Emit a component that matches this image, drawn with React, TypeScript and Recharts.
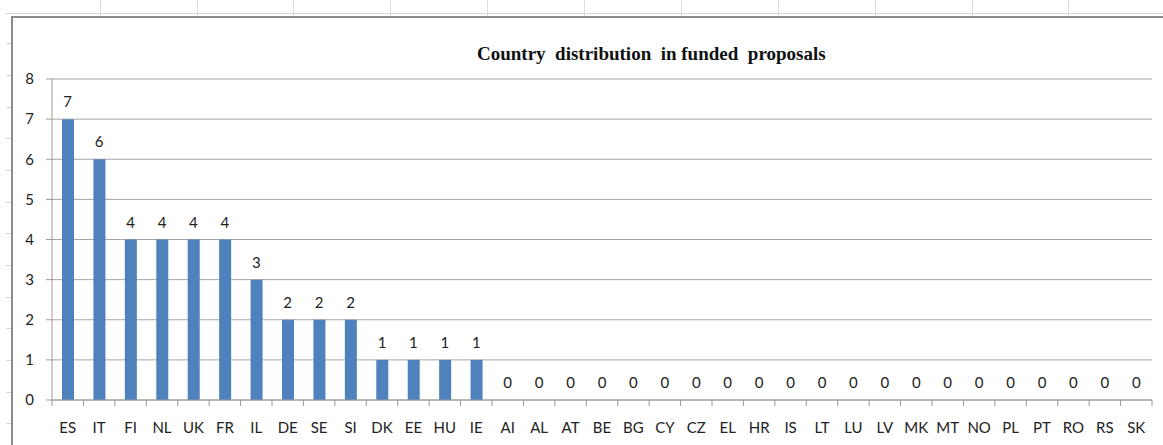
import { Bar, CartesianGrid, ComposedChart, LabelList, Line, XAxis, YAxis } from "recharts";

const countries = [
  "ES", "IT", "FI", "NL", "UK", "FR", "IL", "DE", "SE", "SI", "DK", "EE", "HU", "IE",
  "AI", "AL", "AT", "BE", "BG", "CY", "CZ", "EL", "HR", "IS", "LT", "LU", "LV", "MK",
  "MT", "NO", "PL", "PT", "RO", "RS", "SK",
];
const proposals = [7, 6, 4, 4, 4, 4, 3, 2, 2, 2, 1, 1, 1, 1, 0, 0, 0, 0, 0, 0, 0, 0, 0, 0, 0, 0, 0, 0, 0, 0, 0, 0, 0, 0, 0];
const yTicks = [0, 1, 2, 3, 4, 5, 6, 7, 8];

const data = countries.map((c, i) => ({ pais: c, valor: proposals[i] }));

const FONT = "Lato, 'Open Sans', sans-serif";
const AXIS = "#9a9a9a";

// rótulo da categoria + tracinho na divisa entre categorias (estilo Excel)
function CountryTick(props: any) {
  const { x, y, payload, index, visibleTicksCount, width } = props;
  const band = (width || 1100) / (visibleTicksCount || countries.length);
  const left = x - band / 2;
  return (
    <g>
      <line x1={left} x2={left} y1={y} y2={y + 6} stroke={AXIS} />
      {index === visibleTicksCount - 1 && (
        <line x1={x + band / 2} x2={x + band / 2} y1={y} y2={y + 6} stroke={AXIS} />
      )}
      <text x={x} y={y + 33} textAnchor="middle" fontSize={15} fill="#222" fontFamily={FONT}>
        {payload.value}
      </text>
    </g>
  );
}

// linhas de células da planilha que aparecem atrás do gráfico
const colLines = [100, 197, 293, 390, 487, 584, 681, 778, 875, 972, 1068];
const rowLines = [13, 43, 75, 107, 138, 170, 202, 233, 265, 297, 328, 360, 392, 423];

export default function App() {
  return (
    <div
      style={{
        position: "fixed",
        left: 0,
        top: 0,
        width: 1163,
        height: 445,
        background: "#fff",
        overflow: "hidden",
      }}
    >
      {rowLines.map((r) => (
        <div
          key={r}
          style={{ position: "absolute", left: 6, top: r, width: r === 13 ? 1163 : 6, height: 1, background: "#d4d4d4" }}
        />
      ))}
      {colLines.map((c) => (
        <div key={c} style={{ position: "absolute", left: c, top: 0, width: 1, height: 16, background: "#dcdcdc" }} />
      ))}
      <div
        style={{
          position: "absolute",
          left: 11,
          top: 16,
          width: 1200,
          height: 500,
          borderLeft: "2px solid #8c8c8c",
          borderTop: "2px solid #8c8c8c",
          background: "#fff",
        }}
      />
      <div
        style={{
          position: "absolute",
          left: 477,
          top: 43,
          fontFamily: "'Liberation Serif', 'Times New Roman', serif",
          fontWeight: "bold",
          fontSize: 19,
          whiteSpace: "pre",
          color: "#111",
        }}
      >
        {"Country  distribution  in funded  proposals"}
      </div>
      <div style={{ position: "absolute", left: 0, top: 0 }}>
        <ComposedChart
          width={1163}
          height={445}
          data={data}
          margin={{ top: 79, right: 11, left: 12, bottom: 15 }}
          barCategoryGap={0}
        >
          <CartesianGrid vertical={false} stroke="#a6a6a6" />
          <XAxis
            dataKey="pais"
            interval={0}
            height={30}
            axisLine={{ stroke: AXIS }}
            tickLine={false}
            tickSize={0}
            tickMargin={0}
            tick={<CountryTick />}
          />
          <YAxis
            domain={[0, 8]}
            ticks={yTicks}
            interval={0}
            width={40}
            axisLine={{ stroke: AXIS }}
            tickLine={{ stroke: AXIS }}
            tickSize={6}
            tickMargin={12}
            tick={{ fontSize: 15, fill: "#222", fontFamily: FONT }}
          />
          <Bar dataKey="valor" fill="#4f81bd" barSize={12} isAnimationActive={false} />
          {/* série invisível só para os rótulos (inclusive os zeros) */}
          <Line
            dataKey="valor"
            stroke="none"
            dot={false}
            activeDot={false}
            legendType="none"
            isAnimationActive={false}
          >
            <LabelList
              dataKey="valor"
              position="top"
              offset={12}
              fontSize={15}
              fill="#222"
              fontFamily={FONT}
            />
          </Line>
        </ComposedChart>
      </div>
    </div>
  );
}
